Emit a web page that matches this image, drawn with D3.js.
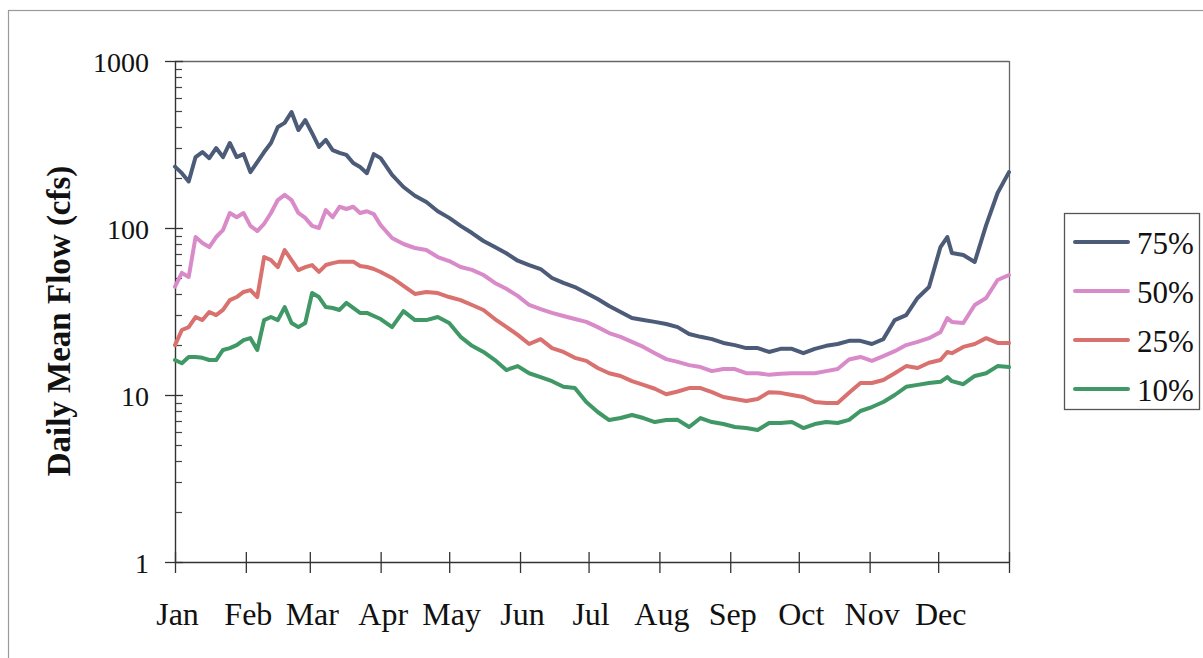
<!DOCTYPE html>
<html>
<head>
<meta charset="utf-8">
<script src="https://cdn.jsdelivr.net/npm/d3@7"></script>
<style>
  html, body { margin: 0; padding: 0; background: #fff; }
  svg { display: block; }
  text { font-family: "Liberation Serif", "Times New Roman", serif; fill: #111; }
</style>
</head>
<body>
<svg id="chart" width="1203" height="658"></svg>
<script>
// ---- data (day of year, daily mean flow in cfs) ----
const days = [0,3,6,9,12,15,18,21,24,27,30,33,36,39,42,45,48,51,54,57,60,63,66,69,72,75,78,81,84,87,90,
  95,100,105,110,115,120,125,130,135,140,145,150,155,160,165,170,175,180,185,190,195,200,205,210,215,220,
  225,230,235,240,245,250,255,260,265,270,275,280,285,290,295,300,305,310,315,320,325,330,335,338,340,345,350,355,360,365];

const p75 = [233,213,190,266,285,262,301,266,323,266,277,216,248,285,323,403,426,495,386,443,370,306,337,293,282,274,245,232,213,277,262,
  208,176,156,143,126,115,103,93.3,83.6,76.9,70.6,63.7,60.0,56.8,50.2,46.9,44.3,40.8,37.6,34.1,31.4,28.9,28.1,27.4,26.6,25.5,
  23.2,22.3,21.6,20.5,19.9,19.1,19.1,18.1,18.9,18.9,17.8,18.9,19.7,20.2,21.1,21.1,20.2,21.6,28.1,30.1,38.1,44.3,76.9,88.3,70.8,68.9,62.6,104,162,216];

const p50 = [44.5,53.8,50.9,88.3,81.3,76.9,88.3,97.2,123,116,123,103,95.9,106,123,147,158,147,123,115,103,100,128,116,134,130,134,123,126,121,104,
  87.1,80.2,75.9,73.8,67.0,63.4,58.4,56.1,52.3,46.9,43.3,39.2,34.6,32.7,31.0,29.7,28.5,27.4,25.5,23.5,22.3,20.8,19.4,17.8,16.4,15.8,
  15.1,14.7,13.9,14.3,14.3,13.5,13.5,13.2,13.4,13.5,13.5,13.5,13.9,14.3,16.3,16.9,16.0,17.1,18.3,19.9,20.8,21.9,23.8,28.9,27.4,27.0,34.6,38.1,48.8,52.3];

const p25 = [19.9,24.5,25.5,29.3,28.1,31.4,30.1,32.3,37.0,38.6,41.4,42.5,38.6,67.0,64.3,58.3,73.8,64.3,56.0,58.3,60.0,54.6,60.0,61.6,62.9,62.9,62.9,59.2,58.4,56.8,54.5,
  50.2,45.0,40.3,41.4,40.8,38.6,37.0,34.6,32.3,28.5,25.6,22.9,20.2,21.6,19.1,18.1,16.7,16.0,14.5,13.5,13.0,12.1,11.5,10.9,10.1,10.5,
  11.0,11.0,10.4,9.73,9.46,9.20,9.46,10.4,10.3,10.0,9.73,9.08,8.96,8.96,10.3,11.8,11.8,12.3,13.5,14.9,14.5,15.6,16.2,18.1,17.8,19.4,20.2,21.9,20.5,20.5];

const p10 = [16.2,15.5,16.9,16.9,16.7,16.2,16.2,18.6,19.1,19.9,21.3,21.9,18.6,28.1,29.3,28.1,33.6,27.0,25.5,27.0,40.8,38.6,33.6,33.2,32.3,35.6,33.2,31.0,31.0,29.7,28.5,
  25.5,31.8,28.1,28.1,29.3,27.0,22.3,19.7,18.1,16.2,14.1,14.9,13.5,12.8,12.1,11.2,11.0,9.08,7.91,7.08,7.28,7.59,7.28,6.89,7.08,7.1,
  6.43,7.28,6.89,6.70,6.43,6.34,6.17,6.80,6.80,6.89,6.34,6.70,6.89,6.80,7.1,8.02,8.47,9.08,10.0,11.2,11.5,11.8,12.0,12.8,12.1,11.6,13.0,13.5,14.9,14.7];

const seriesNames = ["75%","50%","25%","10%"];
const seriesColors = ["#4c5b78","#d98ac8","#d9716f","#3f9866"];
const monthNames = ["Jan","Feb","Mar","Apr","May","Jun","Jul","Aug","Sep","Oct","Nov","Dec"];
const monthStarts = [0,31,59,90,120,151,181,212,243,273,304,334,365];
const yMajor = [1,10,100,1000];
const yLabel = "Daily Mean Flow (cfs)";

// ---- layout ----
const svg = d3.select("#chart");
const L = 175, R = 1009, T = 61, B = 562;
const x = d3.scaleLinear().domain([0,365]).range([L,R]);
const y = d3.scaleLog().domain([1,1000]).range([B,T]);
const serif = "Liberation Serif, Times New Roman, serif";

// outer frame
svg.append("rect").attr("x",8.5).attr("y",10.5).attr("width",1300).attr("height",700)
  .attr("fill","none").attr("stroke","#9a9a9a").attr("stroke-width",1.2);

// plot frame (top and right)
svg.append("line").attr("x1",L).attr("x2",R).attr("y1",T+0.5).attr("y2",T+0.5).attr("stroke","#666").attr("stroke-width",1.3);
svg.append("line").attr("x1",R+0.5).attr("x2",R+0.5).attr("y1",T).attr("y2",B).attr("stroke","#666").attr("stroke-width",1.3);

// minor y ticks
const minor = [];
for (let e = 0; e < 3; e++) for (let k = 2; k <= 9; k++) minor.push(k*Math.pow(10,e));
svg.append("g").selectAll("line").data(minor).join("line")
  .attr("x1",L).attr("x2",L+7).attr("y1",d=>Math.round(y(d))+0.5).attr("y2",d=>Math.round(y(d))+0.5)
  .attr("stroke","#444").attr("stroke-width",1.2);

// y axis
const gy = svg.append("g").attr("transform",`translate(${L},0)`)
  .call(d3.axisLeft(y).tickValues(yMajor).tickFormat(d3.format("d")).tickSize(10).tickSizeOuter(0).tickPadding(16));
gy.select(".domain").attr("stroke","#333").attr("stroke-width",1.4);
gy.selectAll(".tick line").attr("x1",8).attr("stroke","#333").attr("stroke-width",1.3);
gy.selectAll(".tick text").attr("font-size",28).attr("font-family",serif).attr("fill","#111").attr("dy","0.36em");

// x axis
const gx = svg.append("g").attr("transform",`translate(0,${B})`)
  .call(d3.axisBottom(x).tickValues(monthStarts).tickFormat((d,i)=> i < 12 ? monthNames[i] : "").tickSize(11).tickSizeOuter(0));
gx.select(".domain").attr("stroke","#333").attr("stroke-width",1.4);
gx.selectAll(".tick line").attr("y1",-10).attr("stroke","#333").attr("stroke-width",1.3);
gx.selectAll(".tick text").attr("font-size",32).attr("font-family",serif).attr("fill","#111")
  .attr("y",63).attr("dy",0).attr("dx",2);

// y axis title
svg.append("text").attr("transform","translate(70,321) rotate(-90)")
  .attr("text-anchor","middle").attr("font-size",33).attr("font-weight","bold").attr("font-family",serif).text(yLabel);

// lines
const allSeries = [p75,p50,p25,p10];
const line = d3.line().x((d,i)=>x(days[i])).y(d=>y(d));
svg.append("g").selectAll("path").data(allSeries).join("path")
  .attr("d",d=>line(d)).attr("fill","none")
  .attr("stroke",(d,i)=>seriesColors[i]).attr("stroke-width",4)
  .attr("stroke-linejoin","round").attr("stroke-linecap","round");

// legend
const lg = svg.append("g");
lg.append("rect").attr("x",1064.5).attr("y",213.5).attr("width",135).attr("height",196)
  .attr("fill","#fff").attr("stroke","#555").attr("stroke-width",1.3);
const rows = lg.selectAll("g.row").data(seriesNames).join("g").attr("class","row")
  .attr("transform",(d,i)=>`translate(0,${242 + i*49})`);
rows.append("line").attr("x1",1075).attr("x2",1128).attr("y1",0).attr("y2",0)
  .attr("stroke",(d,i)=>seriesColors[i]).attr("stroke-width",4).attr("stroke-linecap","round");
rows.append("text").attr("x",1137).attr("y",12).attr("font-size",31).attr("font-family",serif).text(d=>d);
</script>
</body>
</html>
